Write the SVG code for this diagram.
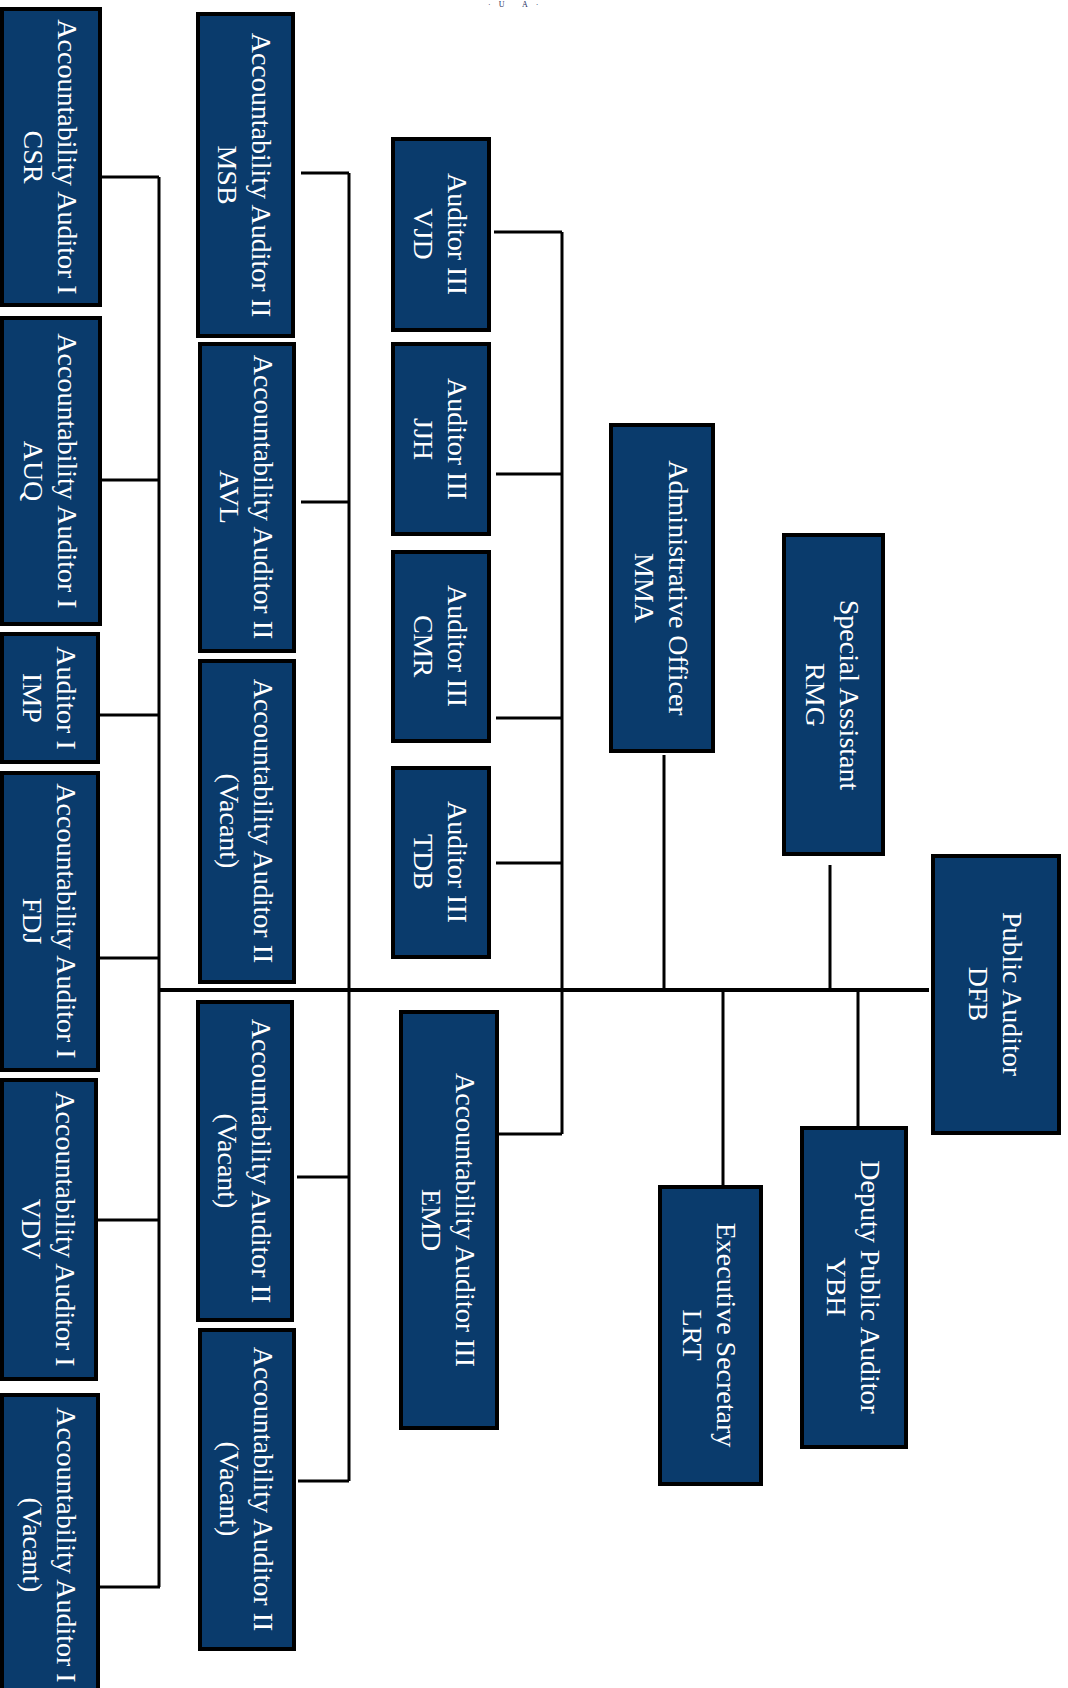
<svg xmlns="http://www.w3.org/2000/svg" width="1068" height="1688" viewBox="0 0 1068 1688">
<style>
.box{fill:#0a3b6c;stroke:#000;stroke-width:4}
.lbl{font-family:"Liberation Serif","Times New Roman",serif;font-size:28px;fill:#fff;text-anchor:middle}
.ln{stroke:#000;stroke-width:3;fill:none}
.main{stroke:#000;stroke-width:4;fill:none}
.logo{font-family:"Liberation Serif",serif;font-size:8px;fill:#1b2a5a;letter-spacing:8px}
</style>
<rect width="1068" height="1688" fill="#fff"/>
<text class="logo" x="488" y="7">·U A·</text>
<g id="connectors">
<path class="ln" d="M102 177H159M102 480H159M100 715H159M100 958H159M98 1220H160M100 1587H160M159 177V1587"/>
<path class="ln" d="M301 173H349M301 502H349M297 1177H349M298 1481H349M349 173V1481"/>
<path class="ln" d="M494 232H562M496 474H562M496 718H562M496 863H562M499 1134H562M562 232V1134"/>
<path class="main" d="M159 990H929"/>
<path class="ln" d="M664 755V990M830 865V990M723 990V1185M858 990V1126"/>
</g>
<g id="csr"><rect class="box" x="2" y="9" width="98" height="296"/><g transform="translate(51,157) rotate(90)"><text class="lbl"><tspan x="0" y="-7">Accountability Auditor I</tspan><tspan x="0" y="27">CSR</tspan></text></g></g>
<g id="auq"><rect class="box" x="2" y="318" width="98" height="306"/><g transform="translate(51,471) rotate(90)"><text class="lbl"><tspan x="0" y="-7">Accountability Auditor I</tspan><tspan x="0" y="27">AUQ</tspan></text></g></g>
<g id="imp"><rect class="box" x="2" y="634" width="96" height="128"/><g transform="translate(50,698) rotate(90)"><text class="lbl"><tspan x="0" y="-7">Auditor I</tspan><tspan x="0" y="27">IMP</tspan></text></g></g>
<g id="fdj"><rect class="box" x="2" y="773" width="96" height="297"/><g transform="translate(50,921) rotate(90)"><text class="lbl"><tspan x="0" y="-7">Accountability Auditor I</tspan><tspan x="0" y="27">FDJ</tspan></text></g></g>
<g id="vdv"><rect class="box" x="2" y="1080" width="94" height="299"/><g transform="translate(49,1229) rotate(90)"><text class="lbl"><tspan x="0" y="-7">Accountability Auditor I</tspan><tspan x="0" y="27">VDV</tspan></text></g></g>
<g id="vac1"><rect class="box" x="2" y="1395" width="96" height="300"/><g transform="translate(50,1545) rotate(90)"><text class="lbl"><tspan x="0" y="-7">Accountability Auditor I</tspan><tspan x="0" y="27">(Vacant)</tspan></text></g></g>
<g id="msb"><rect class="box" x="198" y="14" width="95" height="322"/><g transform="translate(245,175) rotate(90)"><text class="lbl"><tspan x="0" y="-7">Accountability Auditor II</tspan><tspan x="0" y="27">MSB</tspan></text></g></g>
<g id="avl"><rect class="box" x="200" y="344" width="94" height="307"/><g transform="translate(247,497) rotate(90)"><text class="lbl"><tspan x="0" y="-7">Accountability Auditor II</tspan><tspan x="0" y="27">AVL</tspan></text></g></g>
<g id="vac2a"><rect class="box" x="200" y="661" width="94" height="321"/><g transform="translate(247,821) rotate(90)"><text class="lbl"><tspan x="0" y="-7">Accountability Auditor II</tspan><tspan x="0" y="27">(Vacant)</tspan></text></g></g>
<g id="vac2b"><rect class="box" x="198" y="1002" width="94" height="318"/><g transform="translate(245,1161) rotate(90)"><text class="lbl"><tspan x="0" y="-7">Accountability Auditor II</tspan><tspan x="0" y="27">(Vacant)</tspan></text></g></g>
<g id="vac2c"><rect class="box" x="200" y="1330" width="94" height="319"/><g transform="translate(247,1489) rotate(90)"><text class="lbl"><tspan x="0" y="-7">Accountability Auditor II</tspan><tspan x="0" y="27">(Vacant)</tspan></text></g></g>
<g id="vjd"><rect class="box" x="393" y="139" width="96" height="191"/><g transform="translate(441,234) rotate(90)"><text class="lbl"><tspan x="0" y="-7">Auditor III</tspan><tspan x="0" y="27">VJD</tspan></text></g></g>
<g id="jjh"><rect class="box" x="393" y="344" width="96" height="190"/><g transform="translate(441,439) rotate(90)"><text class="lbl"><tspan x="0" y="-7">Auditor III</tspan><tspan x="0" y="27">JJH</tspan></text></g></g>
<g id="cmr"><rect class="box" x="393" y="552" width="96" height="189"/><g transform="translate(441,646) rotate(90)"><text class="lbl"><tspan x="0" y="-7">Auditor III</tspan><tspan x="0" y="27">CMR</tspan></text></g></g>
<g id="tdb"><rect class="box" x="393" y="768" width="96" height="189"/><g transform="translate(441,862) rotate(90)"><text class="lbl"><tspan x="0" y="-7">Auditor III</tspan><tspan x="0" y="27">TDB</tspan></text></g></g>
<g id="emd"><rect class="box" x="401" y="1012" width="96" height="416"/><g transform="translate(449,1220) rotate(90)"><text class="lbl"><tspan x="0" y="-7">Accountability Auditor III</tspan><tspan x="0" y="27">EMD</tspan></text></g></g>
<g id="mma"><rect class="box" x="611" y="425" width="102" height="326"/><g transform="translate(662,588) rotate(90)"><text class="lbl"><tspan x="0" y="-7">Administrative Officer</tspan><tspan x="0" y="27">MMA</tspan></text></g></g>
<g id="rmg"><rect class="box" x="784" y="535" width="99" height="319"/><g transform="translate(833,695) rotate(90)"><text class="lbl"><tspan x="0" y="-7">Special Assistant</tspan><tspan x="0" y="27">RMG</tspan></text></g></g>
<g id="dfb"><rect class="box" x="933" y="856" width="126" height="277"/><g transform="translate(996,994) rotate(90)"><text class="lbl"><tspan x="0" y="-7">Public Auditor</tspan><tspan x="0" y="27">DFB</tspan></text></g></g>
<g id="lrt"><rect class="box" x="660" y="1187" width="101" height="297"/><g transform="translate(710,1335) rotate(90)"><text class="lbl"><tspan x="0" y="-7">Executive Secretary</tspan><tspan x="0" y="27">LRT</tspan></text></g></g>
<g id="ybh"><rect class="box" x="802" y="1128" width="104" height="319"/><g transform="translate(854,1287) rotate(90)"><text class="lbl"><tspan x="0" y="-7">Deputy Public Auditor</tspan><tspan x="0" y="27">YBH</tspan></text></g></g>
</svg>
